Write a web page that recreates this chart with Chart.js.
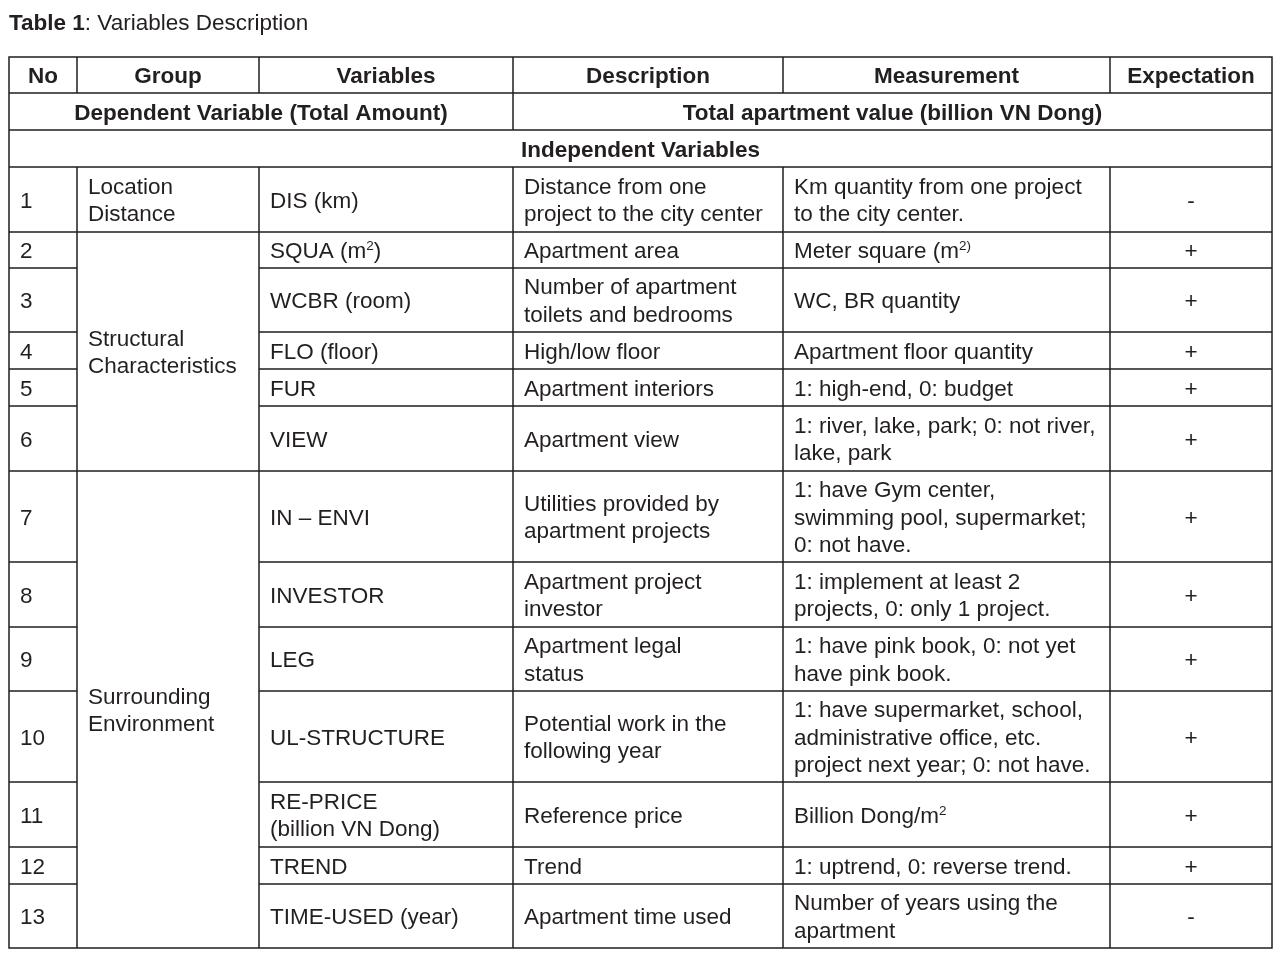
<!DOCTYPE html>
<html>
<head>
<meta charset="utf-8">
<title>Table 1: Variables Description</title>
<script src="https://cdn.jsdelivr.net/npm/chart.js@4.4.0/dist/chart.umd.min.js"></script>
<style>
    html, body { margin: 0; padding: 0; background: #ffffff; }
    #wrap { width: 1280px; height: 958px; }
</style>
</head>
<body>
<div id="wrap"><canvas id="variablesTable" width="1280" height="958"></canvas></div>
<script>
// Table content
const titleBold = 'Table 1';
const titleRest = ': Variables Description';
const headers = ['No', 'Group', 'Variables', 'Description', 'Measurement', 'Expectation'];
const dependentRow = ['Dependent Variable (Total Amount)', 'Total apartment value (billion VN Dong)'];
const independentRow = 'Independent Variables';

const nos = ['1', '2', '3', '4', '5', '6', '7', '8', '9', '10', '11', '12', '13'];
const groups = [
    { label: 'Location\nDistance', from: 0, to: 0 },
    { label: 'Structural\nCharacteristics', from: 1, to: 5 },
    { label: 'Surrounding\nEnvironment', from: 6, to: 12 }
];
const variables = [
    'DIS (km)', 'SQUA (m^{2})', 'WCBR (room)', 'FLO (floor)', 'FUR', 'VIEW',
    'IN \u2013 ENVI', 'INVESTOR', 'LEG', 'UL-STRUCTURE', 'RE-PRICE\n(billion VN Dong)',
    'TREND', 'TIME-USED (year)'
];
const descriptions = [
    'Distance from one\nproject to the city center', 'Apartment area',
    'Number of apartment\ntoilets and bedrooms', 'High/low floor', 'Apartment interiors',
    'Apartment view', 'Utilities provided by\napartment projects', 'Apartment project\ninvestor',
    'Apartment legal\nstatus', 'Potential work in the\nfollowing year', 'Reference price',
    'Trend', 'Apartment time used'
];
const measurements = [
    'Km quantity from one project\nto the city center.', 'Meter square (m^{2)}',
    'WC, BR quantity', 'Apartment floor quantity', '1: high-end, 0: budget',
    '1: river, lake, park; 0: not river,\nlake, park',
    '1: have Gym center,\nswimming pool, supermarket;\n0: not have.',
    '1: implement at least 2\nprojects, 0: only 1 project.',
    '1: have pink book, 0: not yet\nhave pink book.',
    '1: have supermarket, school,\nadministrative office, etc.\nproject next year; 0: not have.',
    'Billion Dong/m^{2}', '1: uptrend, 0: reverse trend.',
    'Number of years using the\napartment'
];
const expectations = ['-', '+', '+', '+', '+', '+', '+', '+', '+', '+', '+', '+', '-'];

// Layout (table units, measured from the table's top-left corner)
const colEdges = [0, 68, 250, 504, 774, 1101, 1263];
const rowEdges = [0, 36, 73, 110, 175, 211, 275, 312, 349, 414, 505, 570, 634, 725, 790, 827, 891];
const FONT = '"Liberation Sans", Arial, Helvetica, sans-serif';
const SIZE = 22.5;
const LINE_H = 27.5;
const INK = '#231f20';

// draws text with ^{..} superscript runs
function drawRich(ctx, text, x, y, align, bold) {
    const parts = text.split(/\^\{([^}]*)\}/);
    const weight = bold ? 'bold ' : '';
    const runs = parts.map((p, i) => ({ t: p, sup: i % 2 === 1 }));
    let total = 0;
    runs.forEach(r => {
        ctx.font = weight + (r.sup ? SIZE * 0.6 : SIZE) + 'px ' + FONT;
        r.w = ctx.measureText(r.t).width;
        total += r.w;
    });
    let cx = align === 'center' ? x - total / 2 : x;
    ctx.textAlign = 'left';
    runs.forEach(r => {
        ctx.font = weight + (r.sup ? SIZE * 0.6 : SIZE) + 'px ' + FONT;
        ctx.fillText(r.t, cx, r.sup ? y - 8 : y);
        cx += r.w;
    });
}

function drawCell(ctx, text, x0, x1, y0, y1, align, bold) {
    const lines = text.split('\n');
    const mid = (y0 + y1) / 2;
    const first = mid - (lines.length - 1) * LINE_H / 2 + 8;
    lines.forEach((line, i) => {
        const x = align === 'center' ? (x0 + x1) / 2 : x0 + 11;
        drawRich(ctx, line, x, first + i * LINE_H, align, bold);
    });
}

const tablePlugin = {
    id: 'tablePlugin',
    beforeDraw(chart) {
        const ctx = chart.ctx;
        ctx.save();
        ctx.fillStyle = '#ffffff';
        ctx.fillRect(0, 0, chart.width, chart.height);
        ctx.restore();
    },
    afterDraw(chart) {
        const ctx = chart.ctx;
        const xs = colEdges.map(v => chart.scales.x.getPixelForValue(v));
        const ys = rowEdges.map(v => chart.scales.y.getPixelForValue(v));
        const last = xs.length - 1;

        ctx.save();
        ctx.fillStyle = INK;
        ctx.textBaseline = 'alphabetic';

        // title
        ctx.font = 'bold ' + SIZE + 'px ' + FONT;
        ctx.fillText(titleBold, xs[0], 30);
        const bw = ctx.measureText(titleBold).width;
        ctx.font = SIZE + 'px ' + FONT;
        ctx.fillText(titleRest, xs[0] + bw, 30);

        // header rows
        headers.forEach((h, c) => drawCell(ctx, h, xs[c], xs[c + 1], ys[0], ys[1], 'center', true));
        drawCell(ctx, dependentRow[0], xs[0], xs[3], ys[1], ys[2], 'center', true);
        drawCell(ctx, dependentRow[1], xs[3], xs[last], ys[1], ys[2], 'center', true);
        drawCell(ctx, independentRow, xs[0], xs[last], ys[2], ys[3], 'center', true);

        // body rows
        const body = 3;
        nos.forEach((n, r) => {
            const y0 = ys[body + r], y1 = ys[body + r + 1];
            drawCell(ctx, n, xs[0], xs[1], y0, y1, 'left');
            drawCell(ctx, variables[r], xs[2], xs[3], y0, y1, 'left');
            drawCell(ctx, descriptions[r], xs[3], xs[4], y0, y1, 'left');
            drawCell(ctx, measurements[r], xs[4], xs[5], y0, y1, 'left');
            drawCell(ctx, expectations[r], xs[5], xs[6], y0, y1, 'center');
        });
        groups.forEach(g => {
            drawCell(ctx, g.label, xs[1], xs[2], ys[body + g.from], ys[body + g.to + 1], 'left');
        });

        // grid lines
        ctx.strokeStyle = '#1e1e1e';
        ctx.lineWidth = 1.5;
        const seg = (x0, y0, x1, y1) => {
            ctx.beginPath();
            ctx.moveTo(x0, y0);
            ctx.lineTo(x1, y1);
            ctx.stroke();
        };
        // outer box
        ctx.strokeRect(xs[0], ys[0], xs[last] - xs[0], ys[ys.length - 1] - ys[0]);
        // header lines
        for (let r = 1; r <= body; r++) seg(xs[0], ys[r], xs[last], ys[r]);
        for (let c = 1; c < last; c++) seg(xs[c], ys[0], xs[c], ys[1]);
        seg(xs[3], ys[1], xs[3], ys[2]);
        // body verticals
        for (let c = 1; c < last; c++) seg(xs[c], ys[body], xs[c], ys[ys.length - 1]);
        // body horizontals, skipping merged group cells
        const groupEnds = groups.map(g => g.to + 1);
        for (let r = 1; r < nos.length; r++) {
            const y = ys[body + r];
            seg(xs[0], y, xs[1], y);
            if (groupEnds.includes(r)) seg(xs[1], y, xs[2], y);
            seg(xs[2], y, xs[last], y);
        }
        ctx.restore();
    }
};

new Chart(document.getElementById('variablesTable'), {
    type: 'scatter',
    data: { datasets: [] },
    options: {
        responsive: false,
        animation: false,
        devicePixelRatio: 1,
        layout: { padding: { left: 9, right: 8, top: 57, bottom: 10 } },
        plugins: { legend: { display: false }, tooltip: { enabled: false }, title: { display: false } },
        scales: {
            x: { type: 'linear', min: colEdges[0], max: colEdges[colEdges.length - 1], display: false },
            y: { type: 'linear', min: rowEdges[0], max: rowEdges[rowEdges.length - 1], reverse: true, display: false }
        }
    },
    plugins: [tablePlugin]
});
</script>
</body>
</html>
